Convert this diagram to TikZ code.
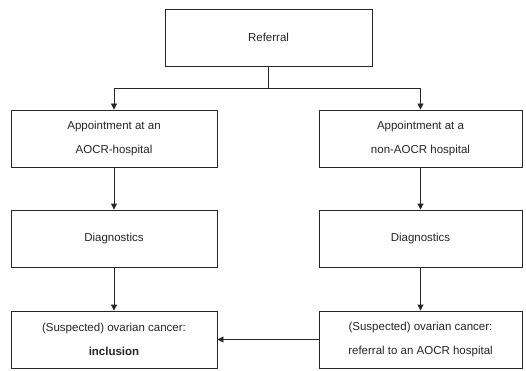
\documentclass[tikz,border=0pt]{standalone}
\usepackage{fontspec}
\setmainfont{Liberation Sans}
\usetikzlibrary{arrows.meta}
\begin{document}
\begin{tikzpicture}[x=1pt,y=-1pt,
  box/.style={draw=black!85, line width=0.9pt, fill=white, minimum width=#1, align=center, font=\fontsize{11.5}{24}\selectfont, text=black!85, inner sep=0pt},
  box/.default=206pt,
  conn/.style={draw=black!85, line width=0.9pt},
  arr/.style={conn, -{Triangle[width=6pt,length=6pt]}}]
\useasboundingbox (0,0) rectangle (526,371);
\node[box=207pt, minimum height=57pt] (ref) at (268.5,37.5) {Referral};
\node[box, minimum height=57pt] (a1) at (114,138.5) {Appointment at an\\AOCR-hospital};
\node[box=203pt, minimum height=57pt] (b1) at (420.5,138.5) {Appointment at a\\non-AOCR hospital};
\node[box, minimum height=57pt] (a2) at (114,238.5) {Diagnostics};
\node[box=203pt, minimum height=57pt] (b2) at (420.5,238.5) {Diagnostics};
\node[box, minimum height=57pt] (a3) at (114,339.5) {(Suspected) ovarian cancer:\\\textbf{inclusion}};
\node[box=203pt, minimum height=57pt] (b3) at (420.5,339.5) {(Suspected) ovarian cancer:\\referral to an AOCR hospital};
\coordinate (j) at (268.5,88);
\draw[conn] (ref.south) -- (j);
\draw[arr] (j) -| (a1.north);
\draw[arr] (j) -| (b1.north);
\draw[arr] (a1) -- (a2);
\draw[arr] (b1) -- (b2);
\draw[arr] (a2) -- (a3);
\draw[arr] (b2) -- (b3);
\draw[arr] (b3) -- (a3);
\end{tikzpicture}
\end{document}
